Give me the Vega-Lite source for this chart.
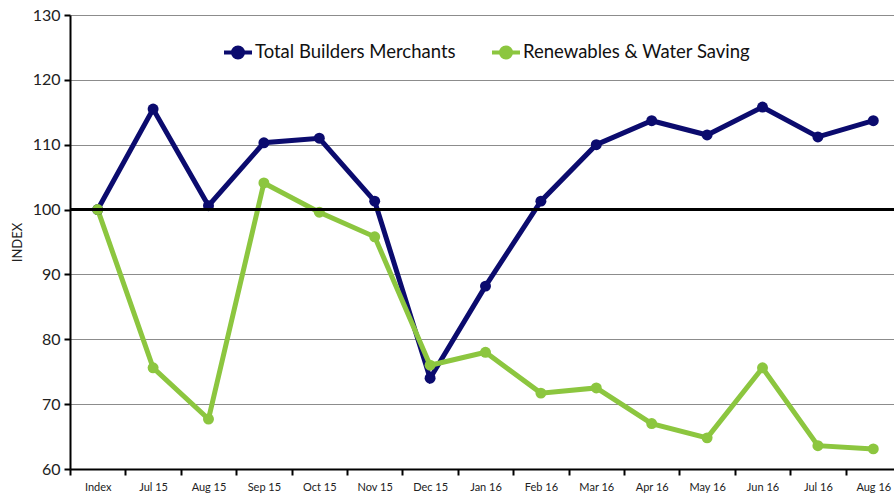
{
  "$schema": "https://vega.github.io/schema/vega-lite/v6.json",
  "width": 824,
  "height": 454,
  "autosize": {"type": "none"},
  "padding": {"left": 70, "top": 15, "right": 0, "bottom": 29},
  "background": "white",
  "config": {
    "view": {"stroke": null},
    "font": "Lato",
    "axis": {"labelFont": "Lato", "titleFont": "Lato"}
  },
  "data": {
    "values": [
      {"month": "Index", "series": "Total Builders Merchants", "value": 100},
      {"month": "Jul 15", "series": "Total Builders Merchants", "value": 115.5},
      {"month": "Aug 15", "series": "Total Builders Merchants", "value": 100.6},
      {"month": "Sep 15", "series": "Total Builders Merchants", "value": 110.3},
      {"month": "Oct 15", "series": "Total Builders Merchants", "value": 111.0},
      {"month": "Nov 15", "series": "Total Builders Merchants", "value": 101.3},
      {"month": "Dec 15", "series": "Total Builders Merchants", "value": 74.0},
      {"month": "Jan 16", "series": "Total Builders Merchants", "value": 88.2},
      {"month": "Feb 16", "series": "Total Builders Merchants", "value": 101.3},
      {"month": "Mar 16", "series": "Total Builders Merchants", "value": 110.0},
      {"month": "Apr 16", "series": "Total Builders Merchants", "value": 113.7},
      {"month": "May 16", "series": "Total Builders Merchants", "value": 111.5},
      {"month": "Jun 16", "series": "Total Builders Merchants", "value": 115.8},
      {"month": "Jul 16", "series": "Total Builders Merchants", "value": 111.2},
      {"month": "Aug 16", "series": "Total Builders Merchants", "value": 113.7},
      {"month": "Index", "series": "Renewables & Water Saving", "value": 100},
      {"month": "Jul 15", "series": "Renewables & Water Saving", "value": 75.6},
      {"month": "Aug 15", "series": "Renewables & Water Saving", "value": 67.7},
      {"month": "Sep 15", "series": "Renewables & Water Saving", "value": 104.1},
      {"month": "Oct 15", "series": "Renewables & Water Saving", "value": 99.6},
      {"month": "Nov 15", "series": "Renewables & Water Saving", "value": 95.8},
      {"month": "Dec 15", "series": "Renewables & Water Saving", "value": 76.0},
      {"month": "Jan 16", "series": "Renewables & Water Saving", "value": 78.0},
      {"month": "Feb 16", "series": "Renewables & Water Saving", "value": 71.7},
      {"month": "Mar 16", "series": "Renewables & Water Saving", "value": 72.5},
      {"month": "Apr 16", "series": "Renewables & Water Saving", "value": 67.0},
      {"month": "May 16", "series": "Renewables & Water Saving", "value": 64.8},
      {"month": "Jun 16", "series": "Renewables & Water Saving", "value": 75.6},
      {"month": "Jul 16", "series": "Renewables & Water Saving", "value": 63.6},
      {"month": "Aug 16", "series": "Renewables & Water Saving", "value": 63.1}
    ]
  },
  "layer": [
    {
      "mark": {"type": "line", "strokeWidth": 5, "point": {"filled": true, "size": 120}},
      "encoding": {
        "x": {
          "field": "month",
          "type": "ordinal",
          "sort": ["Index", "Jul 15", "Aug 15", "Sep 15", "Oct 15", "Nov 15", "Dec 15", "Jan 16", "Feb 16", "Mar 16", "Apr 16", "May 16", "Jun 16", "Jul 16", "Aug 16"],
          "scale": {"type": "band", "range": [0, 831], "paddingInner": 0, "paddingOuter": 0},
          "axis": {
            "title": null,
            "labelAngle": 0,
            "labelFontSize": 11,
            "labelColor": "#222",
            "labelPadding": 6,
            "tickBand": "extent",
            "tickSize": 6,
            "tickColor": "black",
            "tickWidth": 2,
            "domainColor": "black",
            "domainWidth": 2,
            "grid": false,
            "zindex": 1
          }
        },
        "y": {
          "field": "value",
          "type": "quantitative",
          "scale": {"domain": [60, 130], "nice": false, "zero": false},
          "axis": {
            "title": "INDEX",
            "titleFontSize": 13,
            "titleFontWeight": "normal",
            "titleColor": "#222",
            "titlePadding": 8,
            "values": [60, 70, 80, 90, 100, 110, 120, 130],
            "labelFontSize": 16,
            "labelColor": "#222",
            "labelPadding": 4,
            "tickSize": 6,
            "tickColor": "black",
            "tickWidth": 2,
            "domainColor": "black",
            "domainWidth": 2,
            "gridColor": "#8c8c8c",
            "gridWidth": 1,
            "zindex": 0
          }
        },
        "color": {
          "field": "series",
          "type": "nominal",
          "sort": ["Total Builders Merchants", "Renewables & Water Saving"],
          "scale": {"domain": ["Total Builders Merchants", "Renewables & Water Saving"], "range": ["#0b0b6e", "#8cc63f"]},
          "legend": {
            "title": null,
            "orient": "none",
            "legendX": 152,
            "legendY": 21,
            "direction": "horizontal",
            "labelFontSize": 18.5,
            "labelColor": "#111",
            "labelLimit": 400,
            "columnPadding": 28,
            "symbolType": "M -1 0 L 1 0 M 0.36 0 A 0.36 0.36 0 1 1 -0.36 0 A 0.36 0.36 0 1 1 0.36 0 Z",
            "symbolSize": 784,
            "symbolStrokeWidth": 4,
            "labelOffset": 1,
            "encode": {
              "symbols": {
                "update": {
                  "stroke": {"scale": "color", "field": "value"},
                  "fill": {"scale": "color", "field": "value"},
                  "strokeWidth": {"value": 4},
                  "opacity": {"value": 1}
                }
              }
            }
          }
        }
      }
    },
    {
      "mark": {"type": "rule", "color": "black", "strokeWidth": 2},
      "encoding": {"y": {"datum": 100, "type": "quantitative"}}
    }
  ]
}
